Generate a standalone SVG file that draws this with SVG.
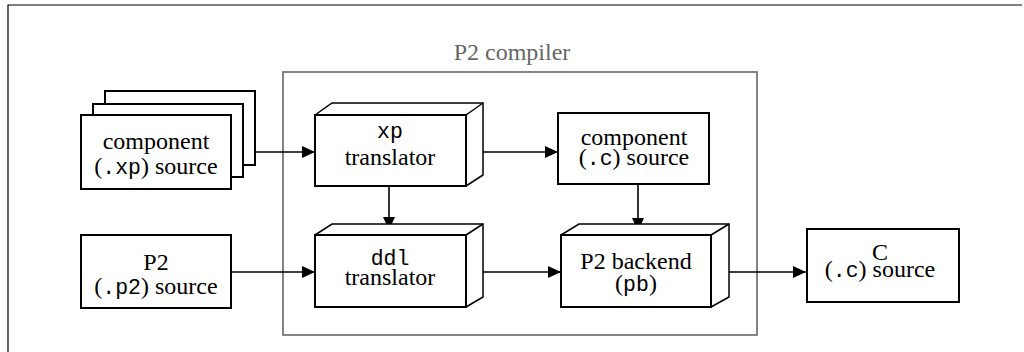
<svg xmlns="http://www.w3.org/2000/svg" width="1024" height="352" viewBox="0 0 1024 352">
<style>
.box{fill:#fff;stroke:#000;stroke-width:2}
.face{fill:#fff;stroke:#000;stroke-width:1.5;stroke-linejoin:miter}
.t{font-family:'Liberation Serif','Times New Roman',serif;font-size:24px;fill:#000;text-anchor:middle}
.m{font-family:'Liberation Mono','Courier New',monospace;font-size:21.5px}
.conn{stroke:#000;stroke-width:1.6;fill:none}
</style>
<defs>
<marker id="ah" markerWidth="13" markerHeight="12" refX="13" refY="6" orient="auto" markerUnits="userSpaceOnUse">
<path d="M0,0 L13,6 L0,12 Z" fill="#000"/>
</marker>
</defs>
<rect width="1024" height="352" fill="#fff"/>
<g id="frame">
<path d="M8,352 V5 H1022" stroke="#000" stroke-width="1.2" fill="none"/>
</g>
<g id="compiler">
<rect x="283" y="72" width="474" height="263" fill="none" stroke="#666" stroke-width="1.6"/>
<text x="512" y="60" class="t" style="fill:#666">P2 compiler</text>
</g>
<g id="connectors">
<line class="conn" x1="255" y1="152" x2="315" y2="152" marker-end="url(#ah)"/>
<line class="conn" x1="231" y1="272" x2="315" y2="272" marker-end="url(#ah)"/>
<line class="conn" x1="476" y1="152" x2="558" y2="152" marker-end="url(#ah)"/>
<line class="conn" x1="389" y1="186" x2="389" y2="230" marker-end="url(#ah)"/>
<line class="conn" x1="638" y1="184" x2="638" y2="231" marker-end="url(#ah)"/>
<line class="conn" x1="476" y1="272" x2="561" y2="272" marker-end="url(#ah)"/>
<line class="conn" x1="722" y1="272" x2="806" y2="272" marker-end="url(#ah)"/>
</g>
<g id="component-xp-source">
<rect class="box" x="105" y="91" width="150" height="74"/>
<rect class="box" x="93" y="104" width="150" height="73"/>
<rect class="box" x="81" y="115" width="150" height="74"/>
<text class="t" x="156" y="149">component</text>
<text class="t" x="156" y="174">(<tspan class="m">.xp</tspan>) source</text>
</g>
<g id="p2-source">
<rect class="box" x="81" y="235" width="150" height="73"/>
<text class="t" x="156" y="270">P2</text>
<text class="t" x="156" y="294">(<tspan class="m">.p2</tspan>) source</text>
</g>
<g id="xp-translator">
<path class="face" d="M315,115 L332,103 H483 V175 L466,186"/>
<line class="face" x1="466" y1="115" x2="483" y2="103"/>
<rect class="box" x="315" y="115" width="151" height="71"/>
<text class="t" x="390" y="138"><tspan class="m">xp</tspan></text>
<text class="t" x="390" y="165">translator</text>
</g>
<g id="ddl-translator">
<path class="face" d="M315,235 L332,224 H483 V297 L466,307"/>
<line class="face" x1="466" y1="235" x2="483" y2="224"/>
<rect class="box" x="315" y="235" width="151" height="72"/>
<text class="t" x="390" y="265"><tspan class="m">ddl</tspan></text>
<text class="t" x="390" y="285">translator</text>
</g>
<g id="component-c-source">
<rect class="box" x="558" y="113" width="151" height="71"/>
<text class="t" x="634" y="145">component</text>
<text class="t" x="634" y="165">(<tspan class="m">.c</tspan>) source</text>
</g>
<g id="p2-backend">
<path class="face" d="M561,235 L579,224 H729 V297 L711,307"/>
<line class="face" x1="711" y1="235" x2="729" y2="224"/>
<rect class="box" x="561" y="235" width="150" height="72"/>
<text class="t" x="636" y="269">P2 backend</text>
<text class="t" x="636" y="291">(<tspan class="m">pb</tspan>)</text>
</g>
<g id="c-source">
<rect class="box" x="807" y="229" width="152" height="73"/>
<text class="t" x="880" y="260">C</text>
<text class="t" x="880" y="277">(<tspan class="m">.c</tspan>) source</text>
</g>
</svg>
